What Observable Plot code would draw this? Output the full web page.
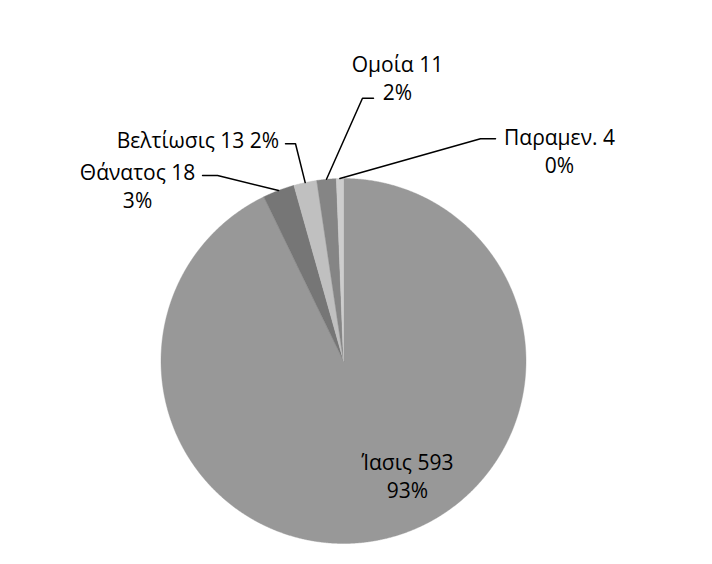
<!DOCTYPE html>
<html><head><meta charset="utf-8">
<script src="https://cdn.jsdelivr.net/npm/d3@7"></script>
<script src="https://cdn.jsdelivr.net/npm/@observablehq/plot@0.6"></script>
<style>body{margin:0;background:#fff}#chart{width:712px;height:564px}</style>
</head><body><div id="chart"></div>
<script>
// ---- data ----
const categories = ["Ίασις", "Θάνατος", "Βελτίωσις", "Ομοία", "Παραμεν."];
const values = [593, 18, 13, 11, 4];
const percentLabels = ["93%", "3%", "2%", "2%", "0%"];

// ---- style / layout ----
const colors = ["#989898", "#767676", "#c0c0c0", "#858585", "#cdcdcd"];
const W = 712, H = 564, CX = 343, CY = 360.5, R = 182.5;
const FONT = "'Open Sans', sans-serif", FS = 21, LH = 1.36;
// pixel offsets (screen, y down) from each slice's outer mid-arc point
const labelLayout = [
  {text: [23, -63.8], sep: "\n", anchor: "middle", leader: null},
  {text: [-141, -5.4], sep: "\n", anchor: "middle", leader: [[-61, -15], [-76, -15]]},
  {text: [-26, -43.8], sep: " ", anchor: "end", leader: [[-9.7, -38.8], [-19.7, -38.8]]},
  {text: [71, -102.3], sep: "\n", anchor: "middle", leader: [[36, -81], [47, -81]]},
  {text: [219.6, -28.5], sep: "\n", anchor: "middle", leader: [[140.6, -39.7], [155.6, -39.7]]}
];

// ---- derived ----
const arcs = d3.pie().sort(null).value(d => d)(values);
const slicePts = [];
arcs.forEach((a, i) => {
  const n = Math.max(2, Math.ceil((a.endAngle - a.startAngle) / (Math.PI / 720)));
  slicePts.push({category: categories[i], x: 0, y: 0});
  for (let k = 0; k <= n; k++) {
    const t = a.startAngle + (a.endAngle - a.startAngle) * k / n;
    slicePts.push({category: categories[i], x: Math.sin(t), y: Math.cos(t)});
  }
  slicePts.push({category: categories[i], x: 0, y: 0});
});
const toData = (ax, ay, o) => ({x: ax + o[0] / R, y: ay - o[1] / R});
const labels = [], leaders = [];
arcs.forEach((a, i) => {
  const mid = (a.startAngle + a.endAngle) / 2;
  const ax = Math.sin(mid), ay = Math.cos(mid);
  const L = labelLayout[i];
  const p = toData(ax, ay, L.text);
  labels.push({...p, anchor: L.anchor,
    text: `${categories[i]} ${values[i]}${L.sep}${percentLabels[i]}`});
  if (L.leader) {
    leaders.push({id: i, x: ax, y: ay});
    L.leader.forEach(o => leaders.push({id: i, ...toData(ax, ay, o)}));
  }
});

const chart = Plot.plot({
  width: W, height: H,
  x: {domain: [-1, 1], range: [CX - R, CX + R], axis: null},
  y: {domain: [-1, 1], range: [CY + R, CY - R], axis: null},
  color: {domain: categories, range: colors},
  style: {fontFamily: FONT, background: "#fff"},
  marks: [
    Plot.line(slicePts, {x: "x", y: "y", z: "category", fill: "category", stroke: "category", strokeWidth: 0.4, curve: "linear"}),
    Plot.line(leaders, {x: "x", y: "y", z: "id", stroke: "#000", strokeWidth: 1.5}),
    Plot.text(labels.filter(d => d.anchor === "middle"), {x: "x", y: "y", text: "text", textAnchor: "middle", fontSize: FS, lineHeight: LH, fill: "#000"}),
    Plot.text(labels.filter(d => d.anchor === "end"), {x: "x", y: "y", text: "text", textAnchor: "end", fontSize: FS, lineHeight: LH, fill: "#000"})
  ]
});
document.getElementById("chart").appendChild(chart);
</script>
</body></html>
